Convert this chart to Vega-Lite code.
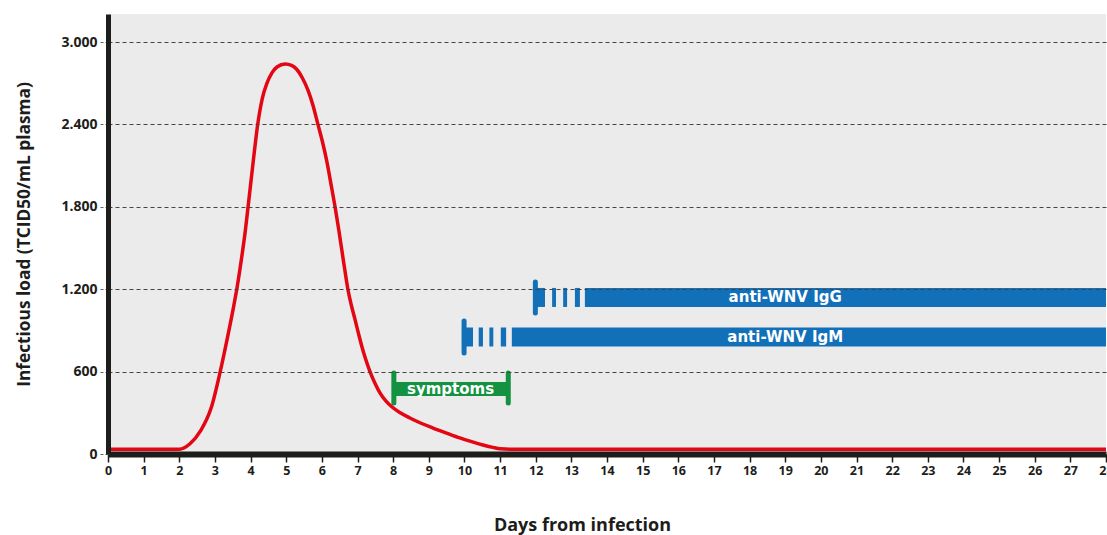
{
  "$schema": "https://vega.github.io/schema/vega-lite/v6.json",
  "width": 998,
  "height": 440,
  "autosize": {"type": "none"},
  "padding": {"left": 108, "top": 14, "right": 1, "bottom": 81},
  "background": "white",
  "config": {
    "view": {"fill": "#ebebeb", "stroke": null},
    "font": "Open Sans",
    "axis": {"labelOverlap": false, "labelSeparation": 0}
  },
  "datasets": {
    "load": [
      {"day": 0, "load": 35}, {"day": 1, "load": 35}, {"day": 2, "load": 35},
      {"day": 2.3, "load": 75}, {"day": 2.6, "load": 170}, {"day": 2.9, "load": 340},
      {"day": 3.14, "load": 590}, {"day": 3.35, "load": 845}, {"day": 3.5, "load": 1040},
      {"day": 3.62, "load": 1210}, {"day": 3.75, "load": 1430}, {"day": 3.85, "load": 1620},
      {"day": 3.93, "load": 1800}, {"day": 4.07, "load": 2120}, {"day": 4.2, "load": 2400},
      {"day": 4.33, "load": 2590}, {"day": 4.46, "load": 2700}, {"day": 4.6, "load": 2775},
      {"day": 4.74, "load": 2818}, {"day": 4.97, "load": 2840}, {"day": 5.15, "load": 2830},
      {"day": 5.3, "load": 2800}, {"day": 5.45, "load": 2740}, {"day": 5.61, "load": 2650},
      {"day": 5.75, "load": 2540}, {"day": 5.89, "load": 2400}, {"day": 6.02, "load": 2270},
      {"day": 6.14, "load": 2130}, {"day": 6.26, "load": 1960}, {"day": 6.37, "load": 1800},
      {"day": 6.47, "load": 1640}, {"day": 6.56, "load": 1485}, {"day": 6.65, "load": 1330},
      {"day": 6.73, "load": 1200}, {"day": 6.83, "load": 1080}, {"day": 6.93, "load": 980},
      {"day": 7.03, "load": 875}, {"day": 7.12, "load": 785}, {"day": 7.23, "load": 690},
      {"day": 7.35, "load": 600}, {"day": 7.5, "load": 510}, {"day": 7.63, "load": 445},
      {"day": 7.8, "load": 385}, {"day": 7.97, "load": 342}, {"day": 8.2, "load": 300},
      {"day": 8.47, "load": 262}, {"day": 8.8, "load": 222}, {"day": 9.12, "load": 189},
      {"day": 9.5, "load": 152}, {"day": 9.87, "load": 117}, {"day": 10.2, "load": 90},
      {"day": 10.52, "load": 66}, {"day": 10.8, "load": 48}, {"day": 11.0, "load": 38},
      {"day": 11.3, "load": 35}, {"day": 28, "load": 35}
    ],
    "antibody": [
      {"series": "IgG", "start": 11.95, "end": 12.26, "level": 1140},
      {"series": "IgG", "start": 12.46, "end": 12.57, "level": 1140},
      {"series": "IgG", "start": 12.77, "end": 12.88, "level": 1140},
      {"series": "IgG", "start": 13.1, "end": 13.24, "level": 1140},
      {"series": "IgG", "start": 13.38, "end": 28, "level": 1140},
      {"series": "IgM", "start": 9.93, "end": 10.24, "level": 852},
      {"series": "IgM", "start": 10.4, "end": 10.52, "level": 852},
      {"series": "IgM", "start": 10.7, "end": 10.81, "level": 852},
      {"series": "IgM", "start": 11.02, "end": 11.17, "level": 852},
      {"series": "IgM", "start": 11.33, "end": 28, "level": 852}
    ],
    "symptoms": [
      {"series": "symptoms", "start": 8.02, "end": 11.23, "level": 473}
    ],
    "caps": [
      {"series": "IgG", "day": 11.99, "low": 1027, "high": 1252},
      {"series": "IgM", "day": 9.99, "low": 735, "high": 969},
      {"series": "symptoms", "day": 8.02, "low": 371, "high": 590},
      {"series": "symptoms", "day": 11.23, "low": 371, "high": 590}
    ],
    "labels": [
      {"label": "anti-WNV IgG", "day": 19, "level": 1140},
      {"label": "anti-WNV IgM", "day": 19, "level": 852},
      {"label": "symptoms", "day": 9.61, "level": 473}
    ]
  },
  "layer": [
    {
      "data": {"name": "antibody"},
      "mark": {"type": "bar", "orient": "horizontal", "size": 19, "color": "#1170b8"},
      "encoding": {
        "x": {
          "field": "start", "type": "quantitative",
          "scale": {"domain": [0, 28], "nice": false, "padding": 0},
          "axis": {
            "tickCount": 28,
            "tickMinStep": 1,
            "format": "d",
            "title": "Days from infection",
            "grid": false,
            "labelOverlap": false,
            "labelSeparation": 0,
            "labelFontWeight": "bold", "labelFontSize": 12.5, "labelColor": "#1d1d1b",
            "labelPadding": 2, "labelFlush": false, "labelBound": false,
            "domainColor": "#1d1d1b", "domainWidth": 6,
            "tickColor": "#1d1d1b", "tickSize": 8, "tickWidth": 1.5,
            "titleFontSize": 18, "titleFontWeight": "bold", "titleColor": "#1d1d1b",
            "titleX": 474, "titleY": 71, "titleBaseline": "middle",
            "zindex": 1
          }
        },
        "x2": {"field": "end"},
        "y": {
          "field": "level", "type": "quantitative",
          "scale": {"domain": [0, 3204], "nice": false, "padding": 0},
          "axis": {
            "values": [0, 600, 1200, 1800, 2400, 3000],
            "labelExpr": "replace(format(datum.value, ','), ',', '.')",
            "grid": true, "gridDash": [4, 3], "gridColor": "#444444", "gridWidth": 1,
            "tickColor": "#666666", "tickDash": [3, 2], "tickSize": 8,
            "domainColor": "#1d1d1b", "domainWidth": 5,
            "labelFontWeight": "bold", "labelFontSize": 14, "labelColor": "#1d1d1b", "labelPadding": 3,
            "title": "Infectious load (TCID50/mL plasma)",
            "titleFontSize": 17.3, "titleFontWeight": "bold", "titleColor": "#1d1d1b",
            "titleX": -84, "titleY": 220, "titleAngle": -90, "titleAlign": "center", "titleBaseline": "middle",
            "zindex": 1
          }
        }
      }
    },
    {
      "data": {"name": "symptoms"},
      "mark": {"type": "bar", "orient": "horizontal", "size": 14, "color": "#139241"},
      "encoding": {
        "x": {"field": "start", "type": "quantitative"},
        "x2": {"field": "end"},
        "y": {"field": "level", "type": "quantitative"}
      }
    },
    {
      "data": {"name": "caps"},
      "mark": {"type": "rule", "strokeWidth": 5, "strokeCap": "round"},
      "encoding": {
        "x": {"field": "day", "type": "quantitative"},
        "y": {"field": "low", "type": "quantitative"},
        "y2": {"field": "high"},
        "color": {"field": "series", "type": "nominal", "scale": {"domain": ["IgG", "IgM", "symptoms"], "range": ["#1170b8", "#1170b8", "#139241"]}, "legend": null}
      }
    },
    {
      "data": {"name": "labels"},
      "mark": {"type": "text", "color": "white", "font": "DejaVu Sans", "fontWeight": "bold", "fontSize": 15, "align": "center", "baseline": "middle"},
      "encoding": {
        "x": {"field": "day", "type": "quantitative"},
        "y": {"field": "level", "type": "quantitative"},
        "text": {"field": "label"}
      }
    },
    {
      "data": {"name": "load"},
      "mark": {"type": "line", "color": "#e30613", "strokeWidth": 3.5, "interpolate": "monotone"},
      "encoding": {
        "x": {"field": "day", "type": "quantitative"},
        "y": {"field": "load", "type": "quantitative"}
      }
    },
    {
      "mark": {"type": "rule", "color": "#1d1d1b", "strokeWidth": 5},
      "encoding": {"y": {"datum": 3204}}
    }
  ]
}
